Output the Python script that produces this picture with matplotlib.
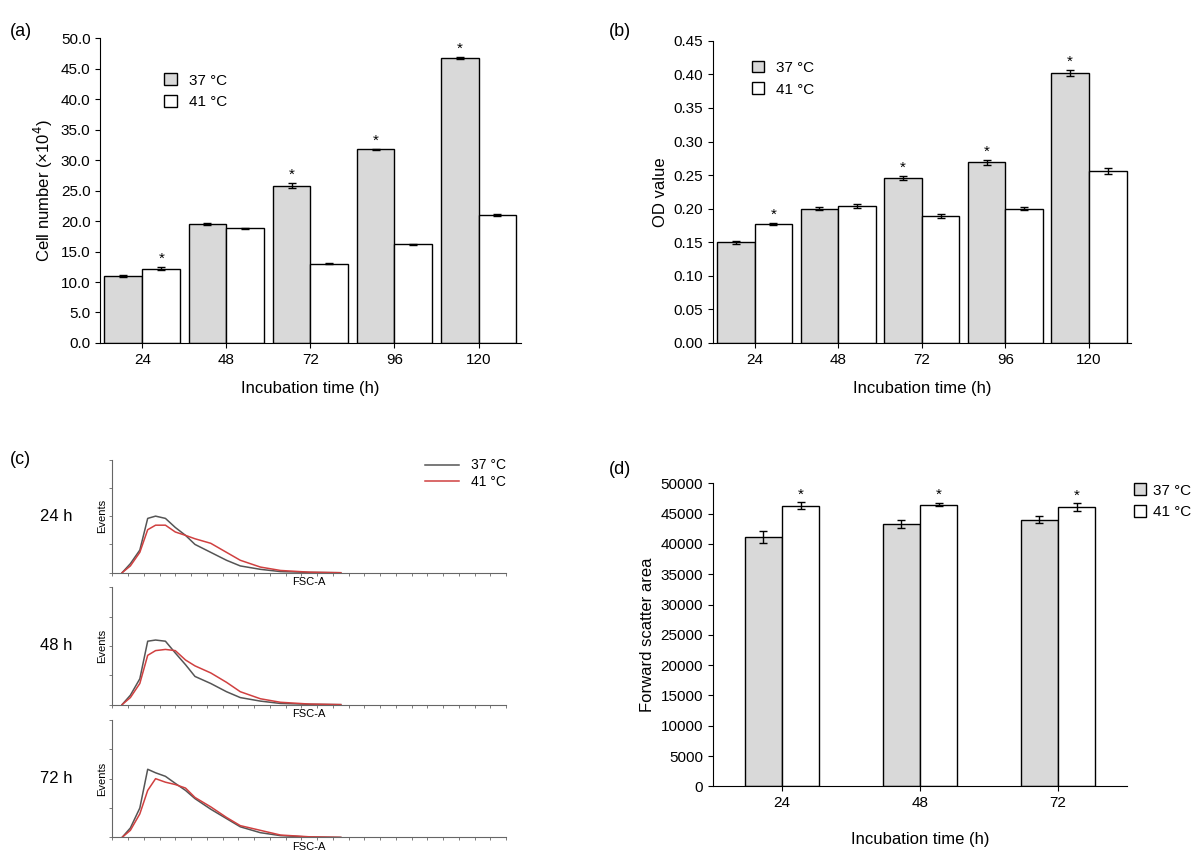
import matplotlib.pyplot as plt
import numpy as np

plt.rcParams['font.family'] = ['Liberation Sans', 'DejaVu Sans']

times_ab = ["24", "48", "72", "96", "120"]
cells_37 = [11.0, 19.5, 25.8, 31.8, 46.8]
cells_41 = [12.2, 18.8, 13.0, 16.2, 21.0]
cells_37_err = [0.2, 0.15, 0.4, 0.1, 0.15]
cells_41_err = [0.3, 0.1, 0.1, 0.1, 0.15]
cells_star = [(0, 1), (2, 0), (3, 0), (4, 0)]

od_37 = [0.150, 0.200, 0.246, 0.269, 0.402]
od_41 = [0.177, 0.204, 0.189, 0.200, 0.256]
od_37_err = [0.002, 0.002, 0.003, 0.004, 0.004]
od_41_err = [0.002, 0.003, 0.003, 0.002, 0.005]
od_star = [(0, 1), (2, 0), (3, 0), (4, 0)]

times_d = ["24", "48", "72"]
fsc_37 = [41200, 43300, 44000]
fsc_41 = [46300, 46500, 46100]
fsc_37_err = [1000, 600, 600]
fsc_41_err = [600, 300, 600]

# flow histograms (FSC-A, arbitrary units 0-100)
hist_x = [2.5, 4.6, 7, 9, 11, 13.5, 16, 18.6, 21, 25, 29, 32.5, 37.6, 42.7, 50, 58]
hist_37 = {
    "24 h": [0, 8, 20, 48, 50, 48, 40, 33, 25, 18, 11, 6, 3, 1, 0.3, 0],
    "48 h": [0, 8, 22, 54, 55, 54, 44, 34, 24, 18, 11, 6, 3, 1, 0.3, 0],
    "72 h": [0, 8, 25, 58, 55, 52, 46, 40, 33, 24, 16, 9, 4, 1.5, 0.3, 0],
}
hist_41 = {
    "24 h": [0, 6, 18, 38, 42, 42, 36, 33, 30, 26, 18, 11, 5, 2, 0.5, 0],
    "48 h": [0, 6, 18, 42, 46, 47, 46, 38, 33, 27, 19, 11, 5, 2, 0.5, 0],
    "72 h": [0, 6, 20, 40, 50, 47, 45, 42, 34, 26, 17, 10, 6, 2, 0.5, 0],
}

GREY = "#d9d9d9"
fig = plt.figure(figsize=(11.94, 8.51), dpi=100)


def bar_panel(ax, cats, v37, v41, e37, e41, width, stars, star_off):
    x = np.arange(len(cats))
    ax.bar(x - width / 2, v37, width, yerr=e37, color=GREY, edgecolor="black",
           linewidth=1, capsize=3, error_kw=dict(lw=1), label="37 °C")
    ax.bar(x + width / 2, v41, width, yerr=e41, color="white", edgecolor="black",
           linewidth=1, capsize=3, error_kw=dict(lw=1), label="41 °C")
    for i, s in stars:
        vals, errs = (v37, e37) if s == 0 else (v41, e41)
        xx = x[i] - width / 2 if s == 0 else x[i] + width / 2
        ax.text(xx, vals[i] + errs[i] + star_off, "*", ha="center", va="bottom", fontsize=11)
    ax.set_xticks(x)
    ax.set_xticklabels(cats, fontsize=11)
    ax.set_xlim(-0.5, len(cats) - 0.5)
    ax.spines["top"].set_visible(False)
    ax.spines["right"].set_visible(False)
    ax.tick_params(labelsize=11)
    ax.set_xlabel("Incubation time (h)", fontsize=12, labelpad=10)


ax_a = fig.add_axes([0.084, 0.597, 0.352, 0.358])
bar_panel(ax_a, times_ab, cells_37, cells_41, cells_37_err, cells_41_err, 0.45, cells_star, 0.2)
ax_a.set_ylim(0, 50)
ax_a.set_yticks(np.arange(0, 50.1, 5))
ax_a.set_yticklabels([f"{v:.1f}" for v in np.arange(0, 50.1, 5)])
ax_a.set_ylabel("Cell number (×10$^4$)", fontsize=12)
ax_a.legend(loc="upper left", bbox_to_anchor=(0.12, 0.93), frameon=False, fontsize=11,
            handlelength=0.8, handleheight=0.8)
fig.text(0.008, 0.958, "(a)", fontsize=13)

ax_b = fig.add_axes([0.597, 0.597, 0.35, 0.355])
bar_panel(ax_b, times_ab, od_37, od_41, od_37_err, od_41_err, 0.45, od_star, 0.002)
ax_b.set_ylim(0, 0.45)
ax_b.set_yticks(np.arange(0, 0.451, 0.05))
ax_b.set_yticklabels([f"{v:.2f}" for v in np.arange(0, 0.451, 0.05)])
ax_b.set_ylabel("OD value", fontsize=12)
ax_b.legend(loc="upper left", bbox_to_anchor=(0.06, 0.98), frameon=False, fontsize=11,
            handlelength=0.8, handleheight=0.8)
fig.text(0.51, 0.958, "(b)", fontsize=13)

ax_d = fig.add_axes([0.597, 0.076, 0.347, 0.356])
bar_panel(ax_d, times_d, fsc_37, fsc_41, fsc_37_err, fsc_41_err, 0.27,
          [(0, 1), (1, 1), (2, 1)], 100)
ax_d.set_ylim(0, 50000)
ax_d.set_yticks(np.arange(0, 50001, 5000))
ax_d.set_ylabel("Forward scatter area", fontsize=12)
ax_d.xaxis.labelpad = 16
ax_d.legend(loc="upper left", bbox_to_anchor=(0.995, 1.03), frameon=False, fontsize=11,
            handlelength=0.8, handleheight=0.8, handletextpad=0.4, borderaxespad=0.2)
fig.text(0.51, 0.443, "(d)", fontsize=13)

fig.text(0.008, 0.455, "(c)", fontsize=13)
c_boxes = [[0.094, 0.327, 0.33, 0.133], [0.094, 0.172, 0.33, 0.138], [0.094, 0.016, 0.33, 0.138]]
for (label, box) in zip(["24 h", "48 h", "72 h"], c_boxes):
    ax = fig.add_axes(box)
    l1, = ax.plot(hist_x, hist_37[label], color="#555555", lw=1.1, label="37 °C")
    l2, = ax.plot(hist_x, hist_41[label], color="#d04040", lw=1.1, label="41 °C")
    ax.set_xlim(0, 100)
    ax.set_ylim(0, 100)
    ax.set_xticks(np.arange(0, 101, 4))
    ax.set_yticks(np.arange(0, 101, 25))
    ax.tick_params(length=2, width=0.6, labelbottom=False, labelleft=False, color="#666666")
    for s in ["top", "right"]:
        ax.spines[s].set_visible(False)
    for s in ["left", "bottom"]:
        ax.spines[s].set_color("#666666")
        ax.spines[s].set_linewidth(0.8)
    ax.set_ylabel("Events", fontsize=8, labelpad=2)
    ax.set_xlabel("FSC-A", fontsize=8, labelpad=1)
    ax.text(-0.1, 0.5, label, transform=ax.transAxes, ha="right", va="center", fontsize=12)
    if label == "24 h":
        ax.legend(handles=[l1, l2], loc="upper right", bbox_to_anchor=(1.03, 1.12),
                  frameon=False, fontsize=10, handlelength=2.5, labelspacing=0.2)

fig.savefig("out.png", dpi=100)
